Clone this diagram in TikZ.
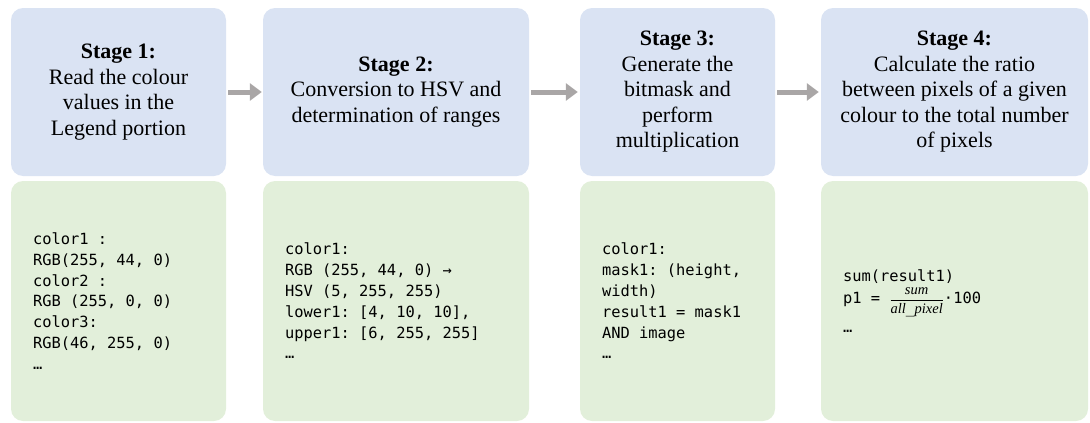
\documentclass[tikz,border=0pt]{standalone}
\usepackage{fontspec}
\setmainfont{Liberation Serif}
\setmonofont{DejaVu Sans Mono}
\usetikzlibrary{arrows.meta}
\definecolor{stageblue}{HTML}{DAE3F3}
\definecolor{codegreen}{HTML}{E2EFDA}
\definecolor{arrowgray}{HTML}{A9A6A6}
\newcommand{\codefont}{\fontsize{15.4pt}{20.8pt}\selectfont\ttfamily}
\newcommand{\sk}{\hphantom{0}}
\tikzset{
  stagebox/.style={fill=stageblue, draw=none, rounded corners=12pt, minimum height=168pt, align=center, inner sep=0pt,
    font=\fontsize{22pt}{25.5pt}\selectfont},
  codebox/.style={fill=codegreen, draw=none, rounded corners=12pt, minimum height=240pt, align=left, inner xsep=22pt, inner ysep=0pt,
    font=\codefont},
  flow/.style={draw=arrowgray, line width=5pt, -{Triangle[length=12pt,width=17pt]}}
}
\newcommand{\ratiofrac}{{\fontsize{14.5pt}{16pt}\selectfont$\displaystyle\frac{\mathit{sum}}{\mathit{all\_pixel}}$}}
\begin{document}
\begin{tikzpicture}[x=1pt,y=1pt]
\useasboundingbox (0,0) rectangle (1090,-423);
% stage boxes
\node[stagebox, minimum width=215pt] (s1) at (118.5,-92) {\textbf{Stage 1:}\\Read the colour\\values in the\\Legend portion};
\node[stagebox, minimum width=266pt] (s2) at (396,-92) {\textbf{Stage 2:}\\Conversion to HSV and\\determination of ranges};
\node[stagebox, minimum width=195pt] (s3) at (677.5,-92) {\textbf{Stage 3:}\\Generate the\\bitmask and\\perform\\multiplication};
\node[stagebox, minimum width=267pt] (s4) at (954.5,-92) {\textbf{Stage 4:}\\Calculate the ratio\\between pixels of a given\\colour to the total number\\of pixels};
% code boxes
\node[codebox, text width=171pt] (c1) at (118.5,-301) {color1\sk:\\RGB(255,\sk44,\sk0)\\color2\sk:\\RGB\sk(255,\sk0,\sk0)\\color3:\\RGB(46,\sk255,\sk0)\\…};
\node[codebox, text width=222pt] (c2) at (396,-301) {color1:\\RGB\sk(255,\sk44,\sk0)\sk→\\HSV\sk(5,\sk255,\sk255)\\lower1:\sk[4,\sk10,\sk10],\\upper1:\sk[6,\sk255,\sk255]\\…};
\node[codebox, text width=151pt] (c3) at (677.5,-301) {color1:\\mask1:\sk(height,\\width)\\result1\sk=\sk{}mask1\\AND\sk{}image\\…};
\node[codebox, text width=223pt] (c4) at (954.5,-301) {sum(result1)\\[2pt]p1\sk=\sk\ratiofrac·100\\[8pt]…};
% arrows
\draw[flow] ([xshift=2pt]s1.east) -- ([xshift=-1pt]s2.west);
\draw[flow] ([xshift=2pt]s2.east) -- ([xshift=-2pt]s3.west);
\draw[flow] ([xshift=2pt]s3.east) -- ([xshift=-2pt]s4.west);
\end{tikzpicture}
\end{document}
